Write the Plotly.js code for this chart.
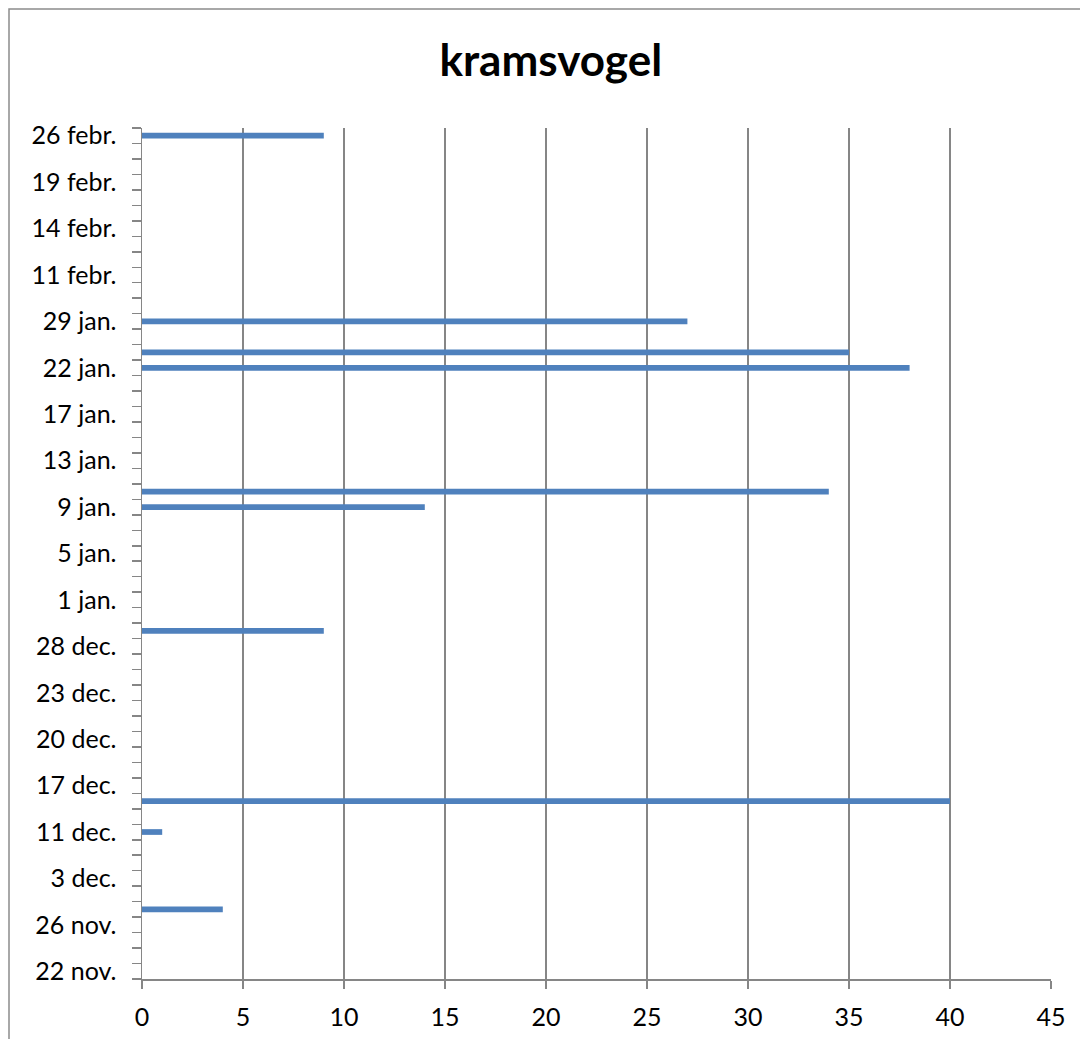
<!DOCTYPE html>
<html>
<head>
<meta charset="utf-8">
<script src="https://cdn.plot.ly/plotly-3.0.1.min.js"></script>
<style>
  html, body { margin: 0; padding: 0; background: #ffffff; }
  #chart { width: 1080px; height: 1039px; }
</style>
</head>
<body>
<div id="chart"></div>
<script>
// Tick labels shown on the category axis (every 3rd category, bottom to top)
const tickLabels = ['22 nov.', '26 nov.', '3 dec.', '11 dec.', '17 dec.', '20 dec.', '23 dec.',
  '28 dec.', '1 jan.', '5 jan.', '9 jan.', '13 jan.', '17 jan.', '22 jan.', '29 jan.',
  '11 febr.', '14 febr.', '19 febr.', '26 febr.'];
const labelEvery = 3;

// Counts per category slot, bottom (22 nov.) to top (26 febr.); null = no observation
const counts = [
  null, null, null, null, 4, null, null, null, null, 1,
  null, 40, null, null, null, null, null, null, null, null,
  null, null, 9, null, null, null, null, null, null, null,
  14, 34, null, null, null, null, null, null, null, 38,
  35, null, 27, null, null, null, null, null, null, null,
  null, null, null, null, 9
];

const slots = counts.map((_, i) => i);
const tickVals = tickLabels.map((_, i) => i * labelEvery);

const grey = '#868686';
const fontFam = 'Lato, "Open Sans", sans-serif';

const trace = {
  type: 'bar',
  orientation: 'h',
  x: counts,
  y: slots,
  marker: { color: '#4F81BD', line: { width: 0 } },
  hoverinfo: 'x+y'
};

const layout = {
  width: 1080,
  height: 1039,
  margin: { l: 142, r: 29, t: 128, b: 60, pad: 0 },
  paper_bgcolor: '#ffffff',
  plot_bgcolor: '#ffffff',
  showlegend: false,
  bargap: 0.63,
  font: { family: fontFam, color: '#000000', size: 25 },
  title: {
    text: '<b>kramsvogel</b>',
    font: { family: fontFam, size: 44, color: '#000000' },
    xref: 'container', x: 0.51, xanchor: 'center',
    yref: 'container', y: 1 - 61 / 1039, yanchor: 'middle'
  },
  xaxis: {
    range: [0, 45],
    tickmode: 'linear', tick0: 0, dtick: 5,
    showgrid: true, gridcolor: grey, gridwidth: 1.5,
    zeroline: false,
    showline: true, linecolor: grey, linewidth: 1.5,
    ticks: 'outside', ticklen: 8, tickcolor: grey, tickwidth: 1.5,
    ticklabelstandoff: 7,
    tickfont: { family: fontFam, size: 25, color: '#000000' },
    fixedrange: true
  },
  yaxis: {
    type: 'linear',
    range: [-0.5, counts.length - 0.5],
    tickmode: 'array', tickvals: tickVals, ticktext: tickLabels,
    showgrid: false, zeroline: false,
    showline: true, linecolor: grey, linewidth: 1.5,
    ticks: 'outside', ticklen: 9, tickcolor: 'rgba(0,0,0,0)',
    ticklabelstandoff: 10,
    tickfont: { family: fontFam, size: 25, color: '#000000' },
    minor: {
      tickmode: 'linear', tick0: -0.5, dtick: 1,
      ticks: 'outside', ticklen: 9, tickcolor: grey, tickwidth: 1.5,
      showgrid: false
    },
    fixedrange: true
  },
  shapes: [{
    type: 'rect', xref: 'paper', yref: 'paper',
    x0: (9 - 142) / 909, x1: 1.3,
    y0: -0.2, y1: (979 - 9) / 851,
    line: { color: '#8c8c8c', width: 1.5 },
    fillcolor: 'rgba(0,0,0,0)',
    layer: 'below'
  }]
};

Plotly.newPlot('chart', [trace], layout, { displayModeBar: false, staticPlot: true });
</script>
</body>
</html>
